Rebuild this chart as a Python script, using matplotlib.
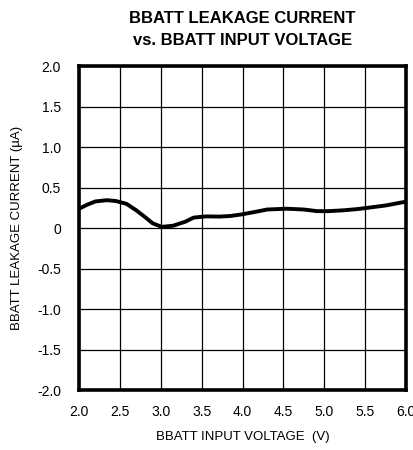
import matplotlib
matplotlib.use("Agg")
import matplotlib.pyplot as plt

plt.rcParams['font.family'] = ['Liberation Sans', 'DejaVu Sans']

# curve
voltage = [2.0, 2.1, 2.2, 2.34, 2.45, 2.58, 2.7, 2.79, 2.9, 3.01, 3.15, 3.3, 3.4,
           3.55, 3.72, 3.85, 3.99, 4.15, 4.3, 4.54, 4.75, 4.91, 5.05, 5.23, 5.4,
           5.52, 5.75, 5.96, 6.0]
current = [0.24, 0.29, 0.33, 0.345, 0.335, 0.3, 0.22, 0.15, 0.06, 0.016, 0.03, 0.08, 0.13,
           0.145, 0.143, 0.15, 0.17, 0.2, 0.23, 0.24, 0.23, 0.21, 0.21, 0.22, 0.235,
           0.25, 0.28, 0.32, 0.325]

xticks = [2.0, 2.5, 3.0, 3.5, 4.0, 4.5, 5.0, 5.5, 6.0]
yticks = [-2.0, -1.5, -1.0, -0.5, 0, 0.5, 1.0, 1.5, 2.0]
ylabels = ['-2.0', '-1.5', '-1.0', '-0.5', '0', '0.5', '1.0', '1.5', '2.0']

fig = plt.figure(figsize=(4.14, 4.5), dpi=100)
ax = fig.add_axes([0.191, 0.133, 0.790, 0.720])

ax.plot(voltage, current, color='black', linewidth=2.8, solid_capstyle='round')

ax.set_xlim(2.0, 6.0)
ax.set_ylim(-2.0, 2.0)
ax.set_xticks(xticks)
ax.set_xticklabels(['%.1f' % v for v in xticks])
ax.set_yticks(yticks)
ax.set_yticklabels(ylabels)
ax.tick_params(axis='x', length=0, labelsize=10, pad=11)
ax.tick_params(axis='y', length=0, labelsize=10, pad=13)
ax.grid(True, color='black', linewidth=0.9)
for s in ax.spines.values():
    s.set_linewidth(2.6)

ax.set_xlabel('BBATT INPUT VOLTAGE  (V)', fontsize=9.5, labelpad=8)
ax.set_ylabel('BBATT LEAKAGE CURRENT (\u00b5A)', fontsize=9.5, labelpad=10)
fig.text(0.585, 0.975, 'BBATT LEAKAGE CURRENT\nvs. BBATT INPUT VOLTAGE',
         ha='center', va='top', fontsize=12, fontweight='bold', linespacing=1.55)

fig.savefig('out.png', dpi=100)
